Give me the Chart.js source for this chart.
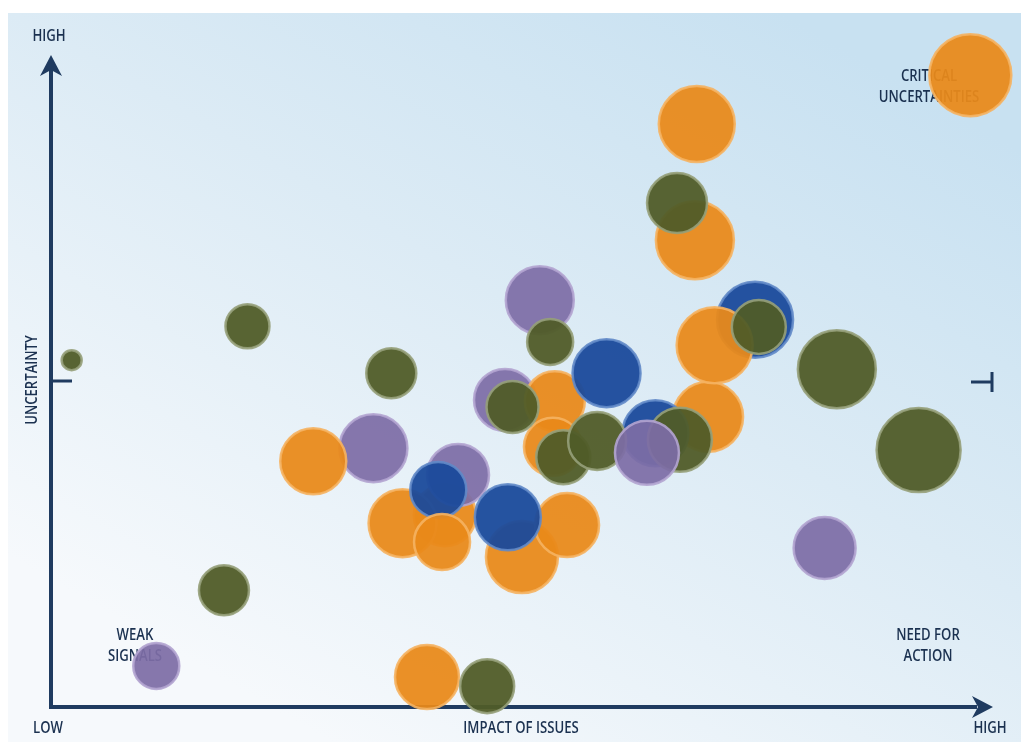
<!DOCTYPE html>
<html>
<head>
<meta charset="utf-8">
<script src="https://cdn.jsdelivr.net/npm/chart.js@4.4.1/dist/chart.umd.min.js"></script>
<style>
html, body { margin: 0; padding: 0; background: #fff; }
#wrap { width: 1021px; height: 742px; }
</style>
</head>
<body>
<div id="wrap"><canvas id="issuesChart" width="1021" height="742"></canvas></div>
<script>
// x = impact of issues (0-100), y = uncertainty (0-100), r = bubble size
var groupNames = ['Group A', 'Group B', 'Group C', 'Group D'];

var orangeIssues = [
	[97.8, 96.9, 41], [68.7, 89.4, 38], [68.5, 71.6, 39], [70.6, 55.5, 38],
	[69.9, 44.5, 35], [53.6, 46.9, 30], [53.4, 39.9, 29], [27.9, 37.7, 33],
	[37.4, 28.2, 34], [41.9, 29.4, 31], [41.6, 25.3, 28], [54.9, 27.9, 32],
	[50.1, 23.0, 36], [40.0, 4.6, 32]
];
var oliveIssues = [
	[2.2, 53.2, 10], [20.9, 58.4, 22], [36.2, 51.2, 25], [66.6, 77.3, 30],
	[75.3, 58.3, 27], [83.6, 51.8, 39], [92.3, 39.4, 42], [53.1, 56.0, 23],
	[49.1, 46.0, 26], [54.5, 38.3, 27], [58.1, 40.8, 29], [66.9, 41.0, 32],
	[18.4, 17.9, 25], [46.4, 3.2, 27]
];
var purpleIssues = [
	[52.0, 62.4, 34], [48.3, 47.1, 31], [34.3, 39.7, 34], [43.3, 35.6, 31],
	[63.4, 39.0, 32], [82.3, 24.4, 31], [11.2, 6.3, 23]
];
var blueIssues = [
	[74.9, 59.4, 38], [59.1, 51.2, 34], [64.3, 42.0, 33], [41.2, 33.3, 28],
	[48.6, 29.1, 33]
];

// stacking order of each bubble (higher is drawn above)
var orangeLayer = [1, 1, 1, 2, 1, 1, 1, 2, 1, 0, 3, 2, 1, 1];
var oliveLayer = [1, 1, 1, 2, 3, 1, 1, 2, 2, 2, 3, 2, 1, 2];
var purpleLayer = [1, 0, 1, 1, 4, 1, 1];
var blueLayer = [1, 2, 1, 2, 3];

var fillColors = ['rgba(233,137,26,0.94)', 'rgba(80,92,40,0.95)', 'rgba(125,109,166,0.93)', 'rgba(26,74,155,0.95)'];
var edgeColors = ['rgba(245,178,98,0.9)', 'rgba(150,160,122,0.9)', 'rgba(178,164,208,0.9)', 'rgba(98,138,200,0.9)'];

var textColor = '#1b3150';
var axisColor = '#1f3b60';

function buildPoints() {
	var groups = [orangeIssues, oliveIssues, purpleIssues, blueIssues];
	var layers = [orangeLayer, oliveLayer, purpleLayer, blueLayer];
	var points = [];
	groups.forEach(function(g, gi) {
		g.forEach(function(p, i) {
			points.push({ x: p[0], y: p[1], r: p[2], layer: layers[gi][i], group: gi });
		});
	});
	points.sort(function(a, b) { return a.layer - b.layer; });
	return points;
}

function label(ctx, text, x, y) {
	ctx.save();
	ctx.translate(x, y);
	ctx.scale(0.82, 1);
	ctx.fillText(text, 0, 0);
	ctx.restore();
}

var backdrop = {
	id: 'backdrop',
	beforeDraw: function(chart) {
		var ctx = chart.ctx;
		ctx.save();
		ctx.fillStyle = '#ffffff';
		ctx.fillRect(0, 0, chart.width, chart.height);
		var grad = ctx.createLinearGradient(760, 0, 330, 742);
		grad.addColorStop(0, '#c8e1f1');
		grad.addColorStop(0.45, '#dcebf5');
		grad.addColorStop(1, '#f6f9fc');
		ctx.fillStyle = grad;
		ctx.fillRect(8, 13, chart.width - 8, chart.height - 13);
		ctx.restore();
	},
	beforeDatasetsDraw: function(chart) {
		var ctx = chart.ctx;
		var a = chart.chartArea;
		var midY = chart.scales.y.getPixelForValue(50);
		ctx.save();
		ctx.strokeStyle = axisColor;
		ctx.fillStyle = axisColor;
		ctx.lineWidth = 4;
		ctx.beginPath();
		ctx.moveTo(a.left, a.top + 12);
		ctx.lineTo(a.left, a.bottom);
		ctx.lineTo(a.right - 14, a.bottom);
		ctx.stroke();
		// arrow heads
		ctx.beginPath();
		ctx.moveTo(a.left, a.top);
		ctx.lineTo(a.left - 11, a.top + 21);
		ctx.lineTo(a.left, a.top + 15);
		ctx.lineTo(a.left + 11, a.top + 21);
		ctx.closePath();
		ctx.fill();
		ctx.beginPath();
		ctx.moveTo(a.right + 2, a.bottom);
		ctx.lineTo(a.right - 19, a.bottom - 11);
		ctx.lineTo(a.right - 13, a.bottom);
		ctx.lineTo(a.right - 19, a.bottom + 11);
		ctx.closePath();
		ctx.fill();
		// middle marks
		ctx.lineWidth = 3;
		ctx.beginPath();
		ctx.moveTo(a.left, midY);
		ctx.lineTo(a.left + 21, midY);
		ctx.moveTo(a.right - 20, midY + 1);
		ctx.lineTo(a.right + 1, midY + 1);
		ctx.moveTo(a.right + 1, midY - 9);
		ctx.lineTo(a.right + 1, midY + 11);
		ctx.stroke();

		ctx.fillStyle = textColor;
		ctx.font = '600 16px "Open Sans"';
		ctx.textAlign = 'center';
		ctx.textBaseline = 'middle';
		label(ctx, 'HIGH', 49, 36);
		label(ctx, 'LOW', 48, 728);
		label(ctx, 'IMPACT OF ISSUES', 521, 728);
		label(ctx, 'HIGH', 990, 728);
		label(ctx, 'CRITICAL', 929, 76);
		label(ctx, 'UNCERTAINTIES', 929, 97);
		label(ctx, 'WEAK', 135, 635);
		label(ctx, 'SIGNALS', 135, 656);
		label(ctx, 'NEED FOR', 928, 635);
		label(ctx, 'ACTION', 928, 656);
		ctx.translate(32, 380);
		ctx.rotate(-Math.PI / 2);
		label(ctx, 'UNCERTAINTY', 0, 0);
		ctx.restore();
	}
};

var issuesChart = new Chart(document.getElementById('issuesChart').getContext('2d'), {
	type: 'bubble',
	data: {
		datasets: [{
			label: groupNames.join(' / '),
			data: buildPoints(),
			clip: false,
			borderWidth: 2.5,
			backgroundColor: function(c) { return c.raw ? fillColors[c.raw.group] : fillColors[0]; },
			borderColor: function(c) { return c.raw ? edgeColors[c.raw.group] : edgeColors[0]; }
		}]
	},
	options: {
		responsive: false,
		animation: false,
		events: [],
		layout: { autoPadding: false, padding: { left: 51, right: 30, top: 55, bottom: 35 } },
		scales: {
			x: { display: false, min: 0, max: 100 },
			y: { display: false, min: 0, max: 100 }
		},
		plugins: {
			legend: { display: false },
			tooltip: { enabled: false }
		}
	},
	plugins: [backdrop]
});
</script>
</body>
</html>
